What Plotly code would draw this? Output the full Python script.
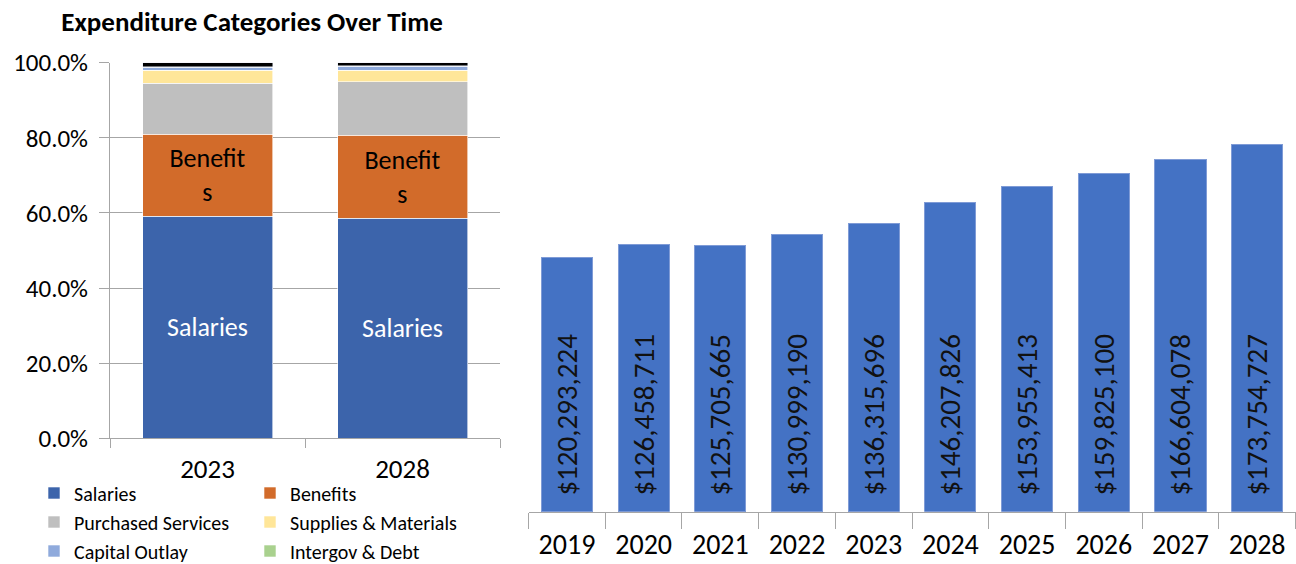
import plotly.graph_objects as go

# ---------------- data ----------------
mix_years = ["2023", "2028"]
salaries = [0.591, 0.586]
benefits = [0.218, 0.221]
purchased_services = [0.136, 0.142]
supplies_materials = [0.035, 0.031]
capital_outlay = [0.0085, 0.011]
intergov_debt = [0.0005, 0.0005]
other_black = [0.0105, 0.0085]
other_orange = [0.001, 0.0005]

years = ["2019", "2020", "2021", "2022", "2023", "2024", "2025", "2026", "2027", "2028"]
totals = [120293224, 126458711, 125705665, 130999190, 136315696,
          146207826, 153955413, 159825100, 166604078, 173754727]

FONT = "Calibri, Carlito, Lato, sans-serif"
W, H = 1296, 564

def px_x(x):
    return x / W

def px_y(y):
    return (H - y) / H

fig = go.Figure()

stack = [
    ("Salaries", salaries, "#3c64ab", "legend", ["Salaries"] * 2, "white"),
    ("Benefits", benefits, "#d26b2a", "legend2", ["Benefit<br>s"] * 2, "black"),
    ("Purchased Services", purchased_services, "#bfbfbf", "legend", None, "black"),
    ("Supplies & Materials", supplies_materials, "#ffe699", "legend2", None, "black"),
    ("Capital Outlay", capital_outlay, "#8faadc", "legend", None, "black"),
    ("Intergov & Debt", intergov_debt, "#a9d18e", "legend2", None, "black"),
]
for name, vals, color, leg, txt, tcol in stack:
    fig.add_trace(go.Bar(
        x=mix_years, y=vals, name=name, marker=dict(color=color, line=dict(color="white", width=0.6)),
        text=txt, textposition="inside" if txt else "none", insidetextanchor="middle",
        textfont=dict(family=FONT, size=26, color=tcol), textangle=0,
        legend=leg, legendgroup=name, xaxis="x", yaxis="y",
    ))
fig.add_trace(go.Bar(x=mix_years, y=other_black, name="Other", marker=dict(color="#000000"),
                     showlegend=False, textposition="none", xaxis="x", yaxis="y"))
fig.add_trace(go.Bar(x=mix_years, y=other_orange, name="Other Uses", marker=dict(color="#c55a11"),
                     showlegend=False, textposition="none", xaxis="x", yaxis="y"))

fig.add_trace(go.Bar(
    x=years, y=totals, name="Total Expenditures", showlegend=False,
    marker=dict(color="#4472c4", line=dict(color="#7f9bd6", width=1)),
    text=["\u00a0\u00a0${:,}".format(v) for v in totals],
    textposition="inside", insidetextanchor="start", textangle=-90,
    textfont=dict(family=FONT, size=29, color="#111111"),
    xaxis="x2", yaxis="y2",
))

grid = "#a6a6a6"
fig.update_layout(
    width=W, height=H,
    margin=dict(l=0, r=0, t=0, b=0, autoexpand=False),
    paper_bgcolor="white", plot_bgcolor="white",
    barmode="stack", bargap=1/3,
    font=dict(family=FONT, color="black"),
    title=dict(text="<b>Expenditure Categories Over Time</b>", x=px_x(252), xanchor="center",
               y=px_y(22), yanchor="middle", font=dict(family=FONT, size=27, color="black")),
    xaxis=dict(domain=[px_x(110), px_x(500)], anchor="y", showline=True, linecolor=grid,
               ticks="outside", tickson="boundaries", ticklen=9, tickcolor=grid,
               tickfont=dict(size=27), ticklabelstandoff=6, automargin=False),
    yaxis=dict(domain=[px_y(438.3), px_y(62.7)], anchor="x", range=[0, 1],
               tickvals=[0, 0.2, 0.4, 0.6, 0.8, 1.0], tickformat=".1%",
               showline=True, linecolor=grid, showgrid=True, gridcolor=grid,
               ticks="outside", ticklen=10, tickcolor=grid, tickfont=dict(size=25),
               ticklabelstandoff=6, zeroline=False, automargin=False),
    xaxis2=dict(domain=[px_x(528.6), px_x(1295.5)], anchor="y2", showline=True, linecolor=grid,
                ticks="outside", tickson="boundaries", ticklen=16, tickcolor=grid,
                tickfont=dict(size=28), ticklabelstandoff=8, automargin=False),
    yaxis2=dict(domain=[px_y(511.7), px_y(62.7)], anchor="x2", range=[0, 449 * 472860],
                visible=False, automargin=False),
    legend=dict(x=px_x(34), xanchor="left", y=px_y(473.5), yanchor="top",
                orientation="v", traceorder="grouped", tracegroupgap=0,
                font=dict(family=FONT, size=20, color="black"), bgcolor="rgba(0,0,0,0)"),
    legend2=dict(x=px_x(250), xanchor="left", y=px_y(473.5), yanchor="top",
                 orientation="v", traceorder="grouped", tracegroupgap=0,
                 font=dict(family=FONT, size=20, color="black"), bgcolor="rgba(0,0,0,0)"),
)

fig.write_html("out.html", config={"displayModeBar": False},
               post_script="document.body.style.margin='0';")
